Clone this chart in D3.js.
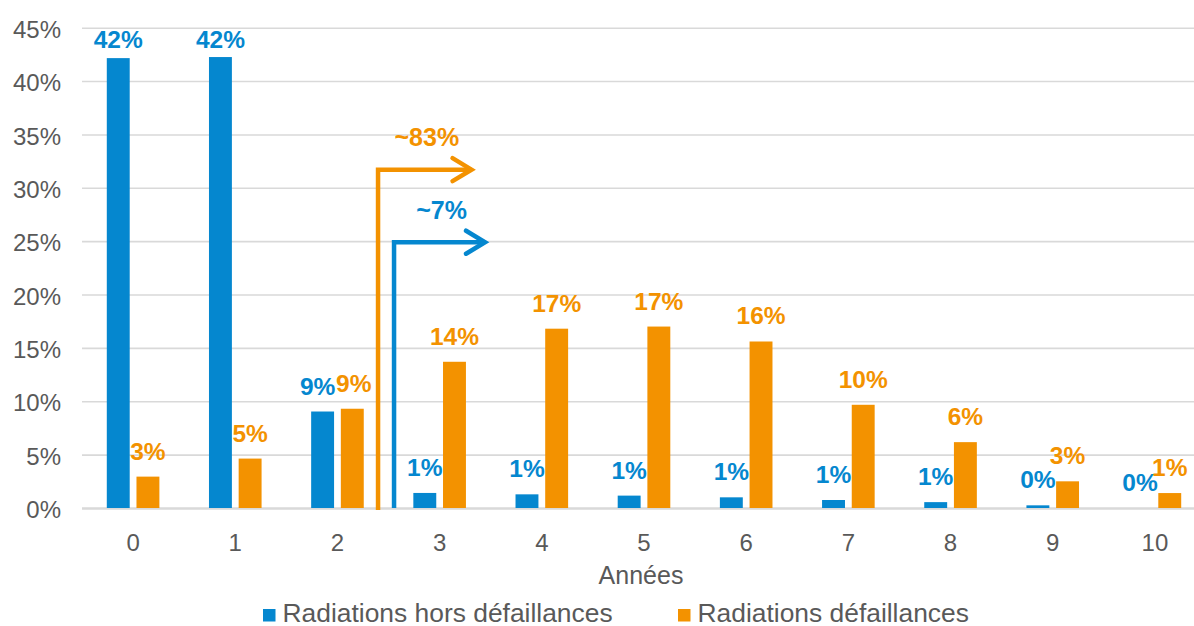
<!DOCTYPE html>
<html>
<head>
<meta charset="utf-8">
<script src="https://cdn.jsdelivr.net/npm/d3@7"></script>
<style>
  body { margin: 0; background: #fff; }
  svg { display: block; font-family: "Liberation Sans", Arial, sans-serif; }
</style>
</head>
<body>
<script>
// data
var years = ["0", "1", "2", "3", "4", "5", "6", "7", "8", "9", "10"];
var horsDefaillances = [42.15, 42.25, 9.04, 1.41, 1.28, 1.16, 1.0, 0.75, 0.55, 0.25, 0];
var defaillances = [2.94, 4.63, 9.3, 13.7, 16.8, 17.0, 15.6, 9.67, 6.17, 2.5, 1.4];
var yTicks = [0, 5, 10, 15, 20, 25, 30, 35, 40, 45];
var seriesNames = ["Radiations hors défaillances", "Radiations défaillances"];
var arrowLabels = ["~83%", "~7%"];   // orange, blue
var arrowLevels = [31.7, 24.9];

var blue = "#0587cf", orange = "#f39200", grey = "#595959", grid = "#d9d9d9";

var svg = d3.select("body").append("svg")
            .attr("width", 1194)
            .attr("height", 626);

var x = d3.scaleBand().domain(years).range([82, 1206]);
var y = d3.scaleLinear().domain([0, 45]).range([508, 27.7]);
var x1 = d3.scaleBand().domain(["hors", "def"]).range([-26.3, 26.3]).paddingInner(0.228);

// gridlines + y labels
var yAxis = svg.append("g")
   .attr("transform", "translate(82,0)")
   .call(d3.axisLeft(y).tickValues(yTicks).tickFormat(function(d){ return d + "%"; })
           .tickSize(-1124).tickPadding(21));
yAxis.select(".domain").remove();
yAxis.selectAll("line").attr("stroke", grid).attr("stroke-width", 1.6);
yAxis.selectAll("line").filter(function(d){ return d == 0; }).attr("stroke-width", 2.6);
yAxis.selectAll("text").attr("fill", grey).attr("font-size", 24).attr("dy", "0.4em")
     .style("font-family", "Liberation Sans, Arial, sans-serif");

// x labels
var xAxis = svg.append("g")
   .attr("transform", "translate(0," + y(0) + ")")
   .call(d3.axisBottom(x).tickSize(0).tickPadding(0));
xAxis.select(".domain").remove();
xAxis.selectAll("text").attr("fill", grey).attr("font-size", 24)
     .attr("y", 42.5).attr("dy", 0)
     .style("font-family", "Liberation Sans, Arial, sans-serif");

svg.append("text")
   .attr("x", 641).attr("y", 584)
   .attr("text-anchor", "middle")
   .attr("font-size", 25)
   .attr("fill", grey)
   .text("Années");

// bars
var series = [
  { key: "hors", values: horsDefaillances, color: blue },
  { key: "def", values: defaillances, color: orange }
];

// nudge labels apart where both bars are the same height
function nudge(key, i) {
  if (Math.abs(y(horsDefaillances[i]) - y(defaillances[i])) > 5) return 0;
  return key == "hors" ? -5 : 1.5;
}

series.forEach(function(s) {
  var g = svg.append("g");
  g.selectAll("rect")
   .data(s.values)
   .enter().append("rect")
   .attr("x", function(d, i){ return x(years[i]) + x.bandwidth() / 2 + x1(s.key); })
   .attr("y", function(d){ return y(d); })
   .attr("width", x1.bandwidth())
   .attr("height", function(d){ return y(0) - y(d); })
   .style("fill", s.color);

  g.selectAll("text")
   .data(s.values)
   .enter().append("text")
   .attr("x", function(d, i){ return x(years[i]) + x.bandwidth() / 2 + x1(s.key) + x1.bandwidth() / 2 + nudge(s.key, i); })
   .attr("y", function(d){ return Math.max(y(d) - 17, 47.5); })
   .attr("text-anchor", "middle")
   .attr("font-size", 24.5)
   .attr("font-weight", "bold")
   .style("fill", s.color)
   .text(function(d){ return Math.round(d) + "%"; });
});

// arrows between year 2 and year 3
var edge = x("3");
var arrows = [
  { label: arrowLabels[0], level: arrowLevels[0], color: orange, vx: edge - 10.5, hx: edge + 83, bottom: y(0) + 2 },
  { label: arrowLabels[1], level: arrowLevels[1], color: blue, vx: edge + 5.5, hx: edge + 96.5, bottom: y(0) }
];

arrows.forEach(function(a) {
  var top = y(a.level);
  svg.append("path")
     .attr("d", "M" + a.vx + "," + a.bottom + " V" + top + " H" + a.hx)
     .attr("fill", "none")
     .attr("stroke", a.color)
     .attr("stroke-width", 4.5);
  svg.append("path") // open chevron head
     .attr("d", "M" + (a.hx - 19) + "," + (top - 11.5) + " L" + a.hx + "," + top + " L" + (a.hx - 19) + "," + (top + 11.5))
     .attr("fill", "none")
     .attr("stroke", a.color)
     .attr("stroke-width", 4.5)
     .attr("stroke-linecap", "round");
  svg.append("text")
     .attr("x", (a.vx + a.hx) / 2 + 2)
     .attr("y", top - 23.5)
     .attr("text-anchor", "middle")
     .attr("font-size", 25)
     .attr("font-weight", "bold")
     .style("fill", a.color)
     .text(a.label);
});

// legend
var legendX = [263, 678];
seriesNames.forEach(function(name, i) {
  svg.append("rect")
     .attr("x", legendX[i]).attr("y", 609)
     .attr("width", 12.5).attr("height", 12.5)
     .style("fill", series[i].color);
  svg.append("text")
     .attr("x", legendX[i] + 19.5).attr("y", 621.5)
     .attr("font-size", 26.4)
     .attr("fill", grey)
     .text(name);
});
</script>
</body>
</html>
